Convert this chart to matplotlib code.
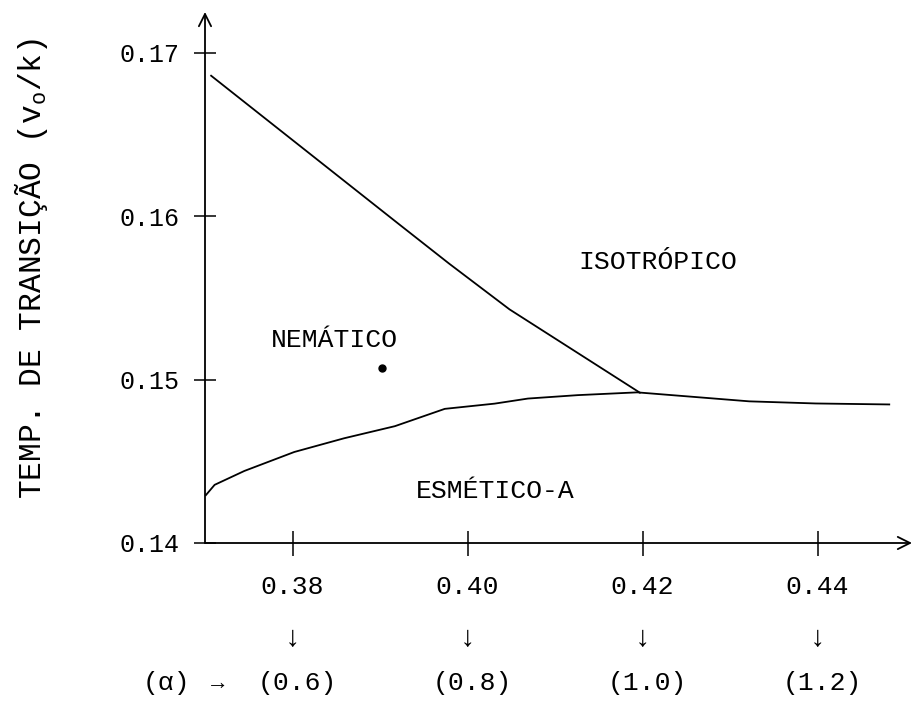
import matplotlib
matplotlib.use('Agg')
import matplotlib.pyplot as plt
import matplotlib.transforms as mtransforms

plt.rcParams['font.family'] = ['Liberation Mono', 'DejaVu Sans Mono']
plt.rcParams['mathtext.fontset'] = 'custom'
plt.rcParams['mathtext.rm'] = 'Liberation Mono'
plt.rcParams['mathtext.it'] = 'Liberation Mono'

# nematic-isotropic boundary
ni_x = [0.3707, 0.3922, 0.3979, 0.4048, 0.4197]
ni_y = [0.1686, 0.1595, 0.1571, 0.1543, 0.1492]

# smectic-A boundary
sa_x = [0.3701, 0.3711, 0.3745, 0.3802, 0.3859, 0.3917, 0.3974, 0.4031,
        0.4069, 0.4126, 0.4194, 0.4322, 0.4398, 0.4482]
sa_y = [0.14293, 0.14356, 0.14441, 0.14557, 0.14641, 0.14715, 0.14821, 0.14853,
        0.14884, 0.14905, 0.14922, 0.14867, 0.14854, 0.14848]

# isolated point
pt_x = [0.3902]
pt_y = [0.1507]

x_ticks = [0.38, 0.40, 0.42, 0.44]
x_tick_labels = ['0.38', '0.40', '0.42', '0.44']
alpha_labels = ['(0.6)', '(0.8)', '(1.0)', '(1.2)']
y_ticks = [0.14, 0.15, 0.16, 0.17]
y_tick_labels = ['0.14', '0.15', '0.16', '0.17']

phases = ['NEMÁTICO', 'ISOTRÓPICO', 'ESMÉTICO-A']
phase_x = [0.3848, 0.4217, 0.4032]
phase_y = [0.1524, 0.1572, 0.1432]

W, H = 912, 704
fig = plt.figure(figsize=(W / 100, H / 100), dpi=100)
ax = fig.add_axes([205 / W, (H - 543) / H, 707 / W, 531 / H])
ax.set_xlim(0.37, 0.4508)
ax.set_ylim(0.14, 0.1725)

for s in ax.spines.values():
    s.set_visible(False)

# axes with open arrow heads
ax.annotate('', xy=(1, 0), xytext=(0, 0), xycoords='axes fraction',
            arrowprops=dict(arrowstyle='->', lw=1.3, color='black',
                            mutation_scale=22, shrinkA=0, shrinkB=0))
ax.annotate('', xy=(0, 1), xytext=(0, 0), xycoords='axes fraction',
            arrowprops=dict(arrowstyle='->', lw=1.3, color='black',
                            mutation_scale=22, shrinkA=0, shrinkB=0))

ax.plot(ni_x, ni_y, color='black', lw=1.3)
ax.plot(sa_x, sa_y, color='black', lw=1.3)
ax.plot(pt_x, pt_y, 'o', color='black', markersize=5)

ax.set_xticks(x_ticks)
ax.set_xticklabels(x_tick_labels, fontsize=19)
ax.set_yticks(y_ticks)
ax.set_yticklabels(y_tick_labels, fontsize=18)
ax.tick_params(axis='x', direction='inout', length=18, width=1.1, pad=14)
ax.tick_params(axis='y', direction='inout', length=16, width=1.1, pad=10)

for name, px, py in zip(phases, phase_x, phase_y):
    ax.text(px, py, name, fontsize=19, ha='center', va='center')

# alpha row below the x axis
blend = mtransforms.blended_transform_factory(ax.transData, fig.transFigure)
for xv, lab in zip(x_ticks, alpha_labels):
    ax.text(xv, 1 - 638 / H, '↓', fontsize=21, ha='center', va='center', transform=blend)
    ax.text(xv + 0.0005, 1 - 683 / H, lab, fontsize=19, ha='center', va='center', transform=blend)
fig.text(166 / W, 1 - 683 / H, '(α)', fontsize=19, ha='center', va='center')
fig.text(218 / W, 1 - 683 / H, '→', fontsize=16, ha='center', va='center')

fig.text(31 / W, 1 - 268 / H, 'TEMP. DE TRANSIÇÃO (v$_\\mathrm{o}$/k)', fontsize=22.5,
         rotation=90, ha='center', va='center')

fig.savefig('out.png', dpi=100)
